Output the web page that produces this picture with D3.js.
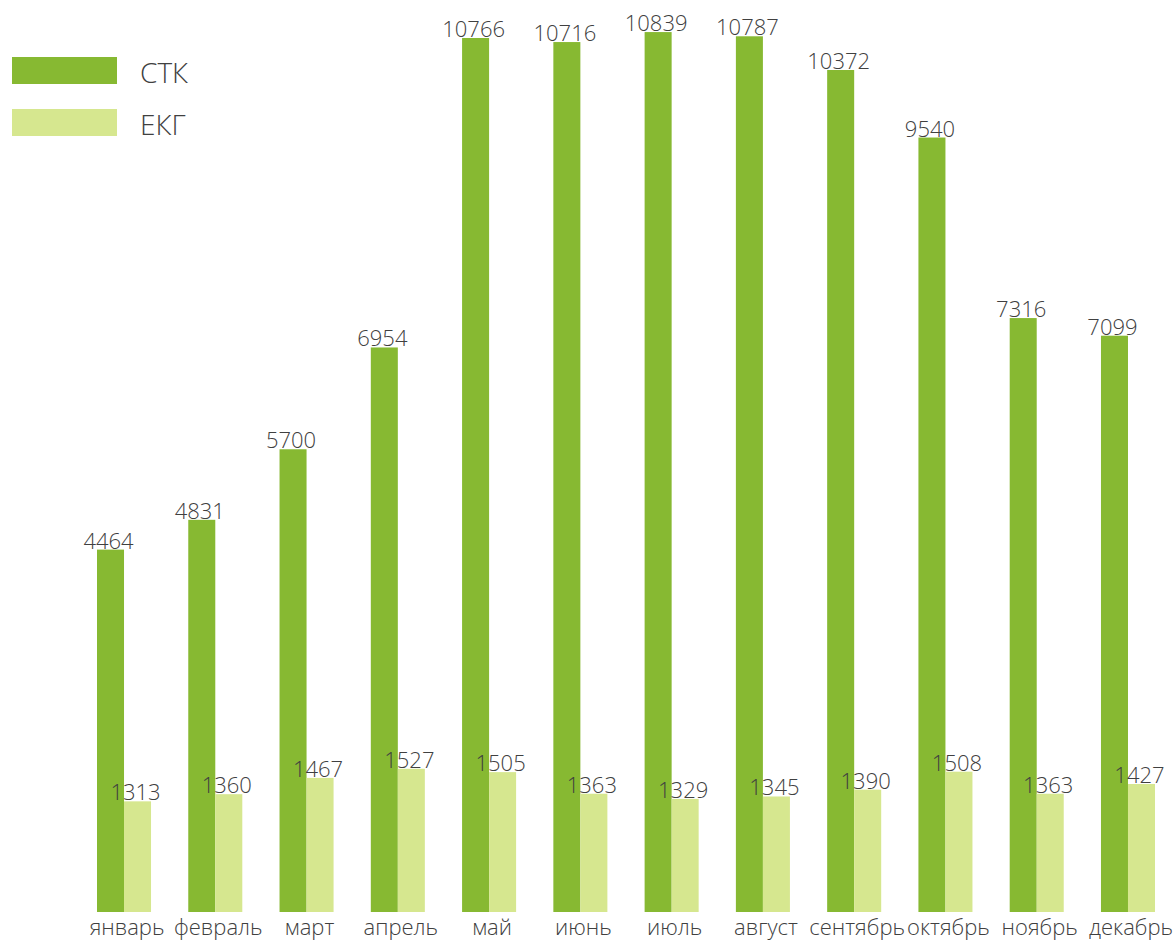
<!DOCTYPE html>
<html>
<head>
<meta charset="utf-8">
<script src="https://cdn.jsdelivr.net/npm/d3@7"></script>
<style>
  body { margin: 0; background: #fff; }
  text { font-family: "Open Sans", "Noto Sans", sans-serif; font-weight: 300; fill: #404040; }
</style>
</head>
<body>
<div id="chart"></div>
<script>
const months = ["январь", "февраль", "март", "апрель", "май", "июнь", "июль", "август", "сентябрь", "октябрь", "ноябрь", "декабрь"];
const seriesNames = ["СТК", "ЕКГ"];
const stk = [4464, 4831, 5700, 6954, 10766, 10716, 10839, 10787, 10372, 9540, 7316, 7099];
const ekg = [1313, 1360, 1467, 1527, 1505, 1363, 1329, 1345, 1390, 1508, 1363, 1427];
const colors = ["#87b932", "#d6e78f"];

const width = 1175, height = 942;
const baseline = 912;

const svg = d3.select("#chart").append("svg")
  .attr("width", width)
  .attr("height", height);

const x = d3.scaleBand()
  .domain(months)
  .range([97, 1155])
  .paddingInner(0.408)
  .paddingOuter(0);

const xs = d3.scaleBand()
  .domain(seriesNames)
  .range([0, x.bandwidth()]);

// основная ось (СТК)
const y = d3.scaleLinear()
  .domain([0, 11000])
  .range([baseline, 19]);

// вспомогательная ось (ЕКГ), не с нуля
const y2 = d3.scaleLinear()
  .domain([586, 6578])
  .range([baseline, 0]);

const scales = [y, y2];

const data = months.map((m, i) => ({ month: m, values: [stk[i], ekg[i]] }));

const groups = svg.selectAll(".month")
  .data(data)
  .enter()
  .append("g")
  .attr("class", "month")
  .attr("transform", d => `translate(${x(d.month)},0)`);

const bars = groups.selectAll(".bar")
  .data(d => d.values.map((v, k) => ({ name: seriesNames[k], value: v, k })))
  .enter();

bars.append("rect")
  .attr("x", d => xs(d.name))
  .attr("y", d => scales[d.k](d.value))
  .attr("width", xs.bandwidth())
  .attr("height", d => baseline - scales[d.k](d.value))
  .attr("fill", d => colors[d.k]);

// подписи значений
bars.append("text")
  .attr("x", d => xs(d.name) + xs.bandwidth() / 2 - 2)
  .attr("y", d => scales[d.k](d.value) - 1)
  .attr("text-anchor", "middle")
  .style("font-size", "22px")
  .text(d => d.value);

// подписи месяцев
groups.append("text")
  .attr("x", x.bandwidth() / 2 + 3)
  .attr("y", 935)
  .attr("text-anchor", "middle")
  .style("font-size", "22px")
  .text(d => d.month);

// легенда
const legend = svg.selectAll(".legend")
  .data(seriesNames)
  .enter()
  .append("g")
  .attr("class", "legend")
  .attr("transform", (d, i) => `translate(12,${57 + i * 52})`);

legend.append("rect")
  .attr("width", 105)
  .attr("height", 27)
  .attr("fill", (d, i) => colors[i]);

legend.append("text")
  .attr("x", 128)
  .attr("y", 26)
  .style("font-size", "28px")
  .text(d => d);
</script>
</body>
</html>
